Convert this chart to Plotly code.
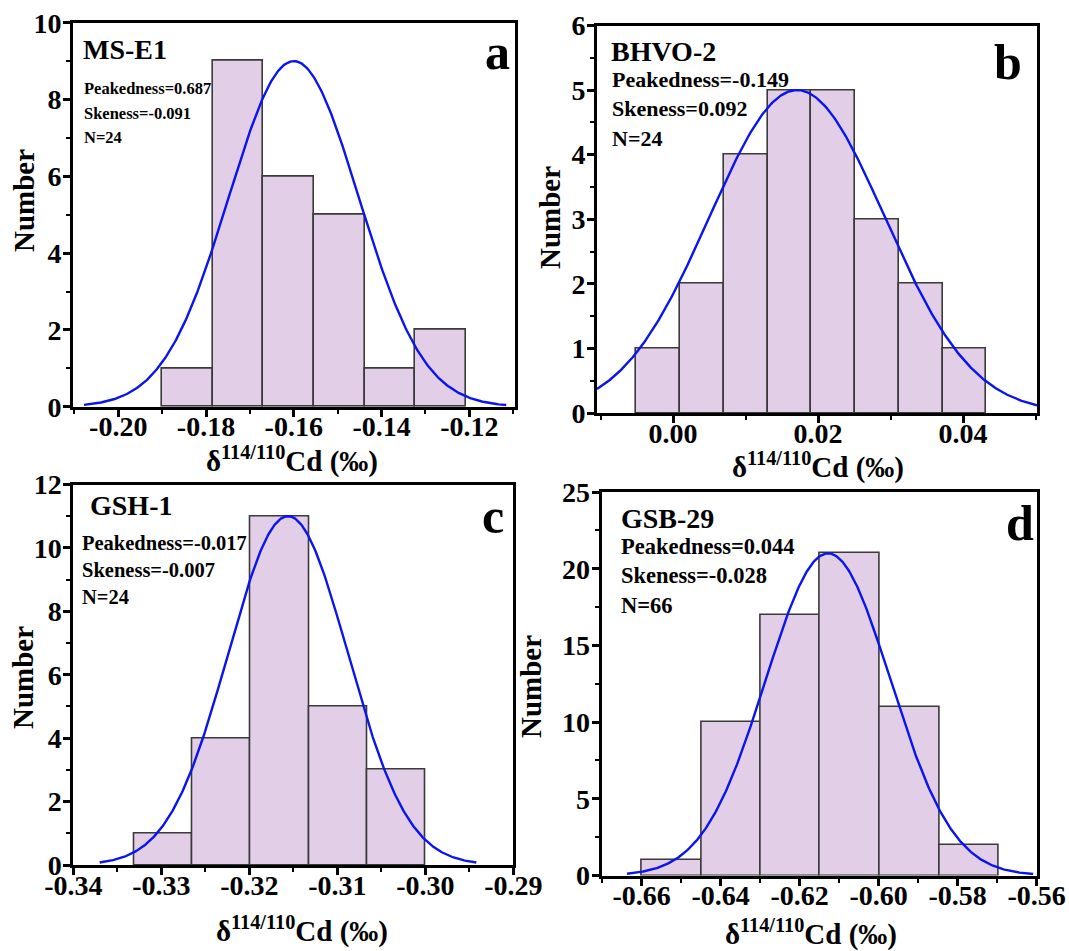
import numpy as np
import plotly.graph_objects as go

W, H = 1069, 951
FONT = "Liberation Serif"
BAR_FILL = "#E2CFE7"
BAR_LINE = "#3a3a3a"
CURVE = "#0A14F0"

# ---- panel a : MS-E1 ----
a_edges = [-0.1901, -0.1785, -0.1670, -0.1553, -0.1438, -0.1324, -0.1207]
a_counts = [1, 9, 6, 5, 1, 2]
a_fit = dict(mean=-0.1600, sd=0.0148, peak=9.0, x0=-0.2078, x1=-0.1116)
a_xticks = [-0.20, -0.18, -0.16, -0.14, -0.12]
a_yticks = [0, 2, 4, 6, 8, 10]
a_stats = ["Peakedness=0.687", "Skeness=-0.091", "N=24"]

# ---- panel b : BHVO-2 ----
b_edges = [-0.00506, 0.00101, 0.00708, 0.01306, 0.01905, 0.02506, 0.03113, 0.03720, 0.04321]
b_counts = [1, 2, 4, 5, 5, 3, 2, 1]
b_fit = dict(mean=0.0171, sd=0.0121, peak=5.0, x0=-0.0105, x1=0.0502)
b_xticks = [0.00, 0.02, 0.04]
b_yticks = [0, 1, 2, 3, 4, 5, 6]
b_stats = ["Peakedness=-0.149", "Skeness=0.092", "N=24"]

# ---- panel c : GSH-1 ----
c_edges = [-0.3331, -0.3265, -0.3199, -0.3132, -0.3066, -0.3000]
c_counts = [1, 4, 11, 5, 3]
c_fit = dict(mean=-0.3156, sd=0.0068, peak=11.0, x0=-0.3370, x1=-0.2942)
c_xticks = [-0.34, -0.33, -0.32, -0.31, -0.30, -0.29]
c_yticks = [0, 2, 4, 6, 8, 10, 12]
c_stats = ["Peakedness=-0.017", "Skeness=-0.007", "N=24"]

# ---- panel d : GSB-29 ----
d_edges = [-0.6600, -0.6448, -0.6299, -0.6148, -0.5998, -0.5846, -0.5696]
d_counts = [1, 10, 17, 21, 11, 2]
d_fit = dict(mean=-0.6128, sd=0.0158, peak=21.0, x0=-0.6637, x1=-0.5609)
d_xticks = [-0.66, -0.64, -0.62, -0.60, -0.58, -0.56]
d_yticks = [0, 5, 10, 15, 20, 25]
d_stats = ["Peakedness=0.044", "Skeness=-0.028", "N=66"]

# panel layout: pixel box, axis ranges, minor steps, label placement
panels = [
    dict(name="MS-E1", letter="a", edges=a_edges, counts=a_counts, fit=a_fit,
         xticks=a_xticks, yticks=a_yticks, stats=a_stats,
         box=(73, 515, 22.7, 406.7), xr=(-0.2103, -0.1096), yr=(0, 10),
         xminor=0.01, yminor=1,
         name_pos=(81, 49), stat_pos=(82, 89, 24), stat_size=16.5,
         letter_pos=(497, 52), ytitle=(24, 201), xtitle=(292, 459)),
    dict(name="BHVO-2", letter="b", edges=b_edges, counts=b_counts, fit=b_fit,
         xticks=b_xticks, yticks=b_yticks, stats=b_stats,
         box=(597, 1037, 25.5, 413), xr=(-0.0105, 0.0502), yr=(0, 6),
         xminor=0.01, yminor=0.5,
         name_pos=(609, 52), stat_pos=(610, 79, 29.5), stat_size=22,
         letter_pos=(1008, 62), ytitle=(550, 218), xtitle=(818, 465)),
    dict(name="GSH-1", letter="c", edges=c_edges, counts=c_counts, fit=c_fit,
         xticks=c_xticks, yticks=c_yticks, stats=c_stats,
         box=(73.3, 513.3, 484.5, 865), xr=(-0.34, -0.29), yr=(0, 12),
         xminor=0.005, yminor=1,
         name_pos=(88, 505), stat_pos=(80, 543, 27), stat_size=20.5,
         letter_pos=(493, 516), ytitle=(23, 678), xtitle=(302, 929)),
    dict(name="GSB-29", letter="d", edges=d_edges, counts=d_counts, fit=d_fit,
         xticks=d_xticks, yticks=d_yticks, stats=d_stats,
         box=(601.7, 1036.7, 492, 875.5), xr=(-0.6701, -0.56), yr=(0, 25),
         xminor=0.01, yminor=2.5,
         name_pos=(619, 518), stat_pos=(619, 546, 29.5), stat_size=22.5,
         letter_pos=(1020, 523), ytitle=(531, 687), xtitle=(811, 932)),
]


def px(x):
    return x / W


def py(y):
    return 1 - y / H


fig = go.Figure()
annotations = []

for i, p in enumerate(panels, start=1):
    sx = "" if i == 1 else str(i)
    xa, ya = "x" + sx, "y" + sx

    edges = np.array(p["edges"])
    centers = (edges[:-1] + edges[1:]) / 2
    widths = np.diff(edges)
    fig.add_trace(go.Bar(
        x=centers, y=p["counts"], width=widths,
        marker=dict(color=BAR_FILL, line=dict(color=BAR_LINE, width=1.6)),
        xaxis=xa, yaxis=ya, showlegend=False, hoverinfo="skip"))

    f = p["fit"]
    xs = np.linspace(f["x0"], f["x1"], 400)
    ys = f["peak"] * np.exp(-0.5 * ((xs - f["mean"]) / f["sd"]) ** 2)
    fig.add_trace(go.Scatter(
        x=xs, y=ys, mode="lines", line=dict(color=CURVE, width=2.4),
        xaxis=xa, yaxis=ya, showlegend=False, hoverinfo="skip"))

    l, r, t, b = p["box"]
    common = dict(showline=True, linewidth=3, linecolor="black", mirror=True,
                  showgrid=False, zeroline=False, ticks="outside",
                  ticklen=7, tickwidth=2.5, tickcolor="black", automargin=False,
                  tickfont=dict(family=FONT, size=28, color="black", weight="bold"))
    fig.layout["xaxis" + sx] = dict(
        common, domain=[px(l), px(r)], range=list(p["xr"]), anchor=ya,
        tickmode="array", tickvals=p["xticks"],
        ticktext=[f"<b>{v:.2f}</b>" for v in p["xticks"]],
        minor=dict(ticks="outside", ticklen=4, tickwidth=2, tickcolor="black",
                   dtick=p["xminor"], tick0=p["xticks"][0]),
        ticklabelstandoff=-14)
    fig.layout["yaxis" + sx] = dict(
        common, domain=[py(b), py(t)], range=list(p["yr"]), anchor=xa,
        tickmode="array", tickvals=p["yticks"],
        ticktext=[f"<b>{v}</b>" for v in p["yticks"]],
        minor=dict(ticks="outside", ticklen=4, tickwidth=2, tickcolor="black",
                   dtick=p["yminor"], tick0=0),
        ticklabelstandoff=-4)

    annotations.append(dict(
        text=p["name"], x=px(p["name_pos"][0]), y=py(p["name_pos"][1]),
        xref="paper", yref="paper", xanchor="left", yanchor="middle",
        showarrow=False, font=dict(family=FONT, size=28, color="black", weight="bold")))
    sx0, sy0, dy = p["stat_pos"]
    for k, line in enumerate(p["stats"]):
        annotations.append(dict(
            text=line, x=px(sx0), y=py(sy0 + k * dy),
            xref="paper", yref="paper", xanchor="left", yanchor="middle",
            showarrow=False,
            font=dict(family=FONT, size=p["stat_size"], color="black", weight="bold")))
    annotations.append(dict(
        text=p["letter"], x=px(p["letter_pos"][0]), y=py(p["letter_pos"][1]),
        xref="paper", yref="paper", xanchor="center", yanchor="middle",
        showarrow=False, font=dict(family=FONT, size=50, color="black", weight="bold")))
    annotations.append(dict(
        text="Number", x=px(p["ytitle"][0]), y=py(p["ytitle"][1]), textangle=-90,
        xref="paper", yref="paper", xanchor="center", yanchor="middle",
        showarrow=False, font=dict(family=FONT, size=29, color="black", weight="bold")))
    annotations.append(dict(
        text="δ<sup>114/110</sup>Cd (‰)", x=px(p["xtitle"][0]), y=py(p["xtitle"][1]),
        xref="paper", yref="paper", xanchor="center", yanchor="middle",
        showarrow=False, font=dict(family=FONT, size=29, color="black", weight="bold")))

fig.update_layout(
    width=W, height=H, autosize=False,
    margin=dict(l=0, r=0, t=0, b=0),
    paper_bgcolor="white", plot_bgcolor="white",
    bargap=0, annotations=annotations)

fig.write_html("out.html")
